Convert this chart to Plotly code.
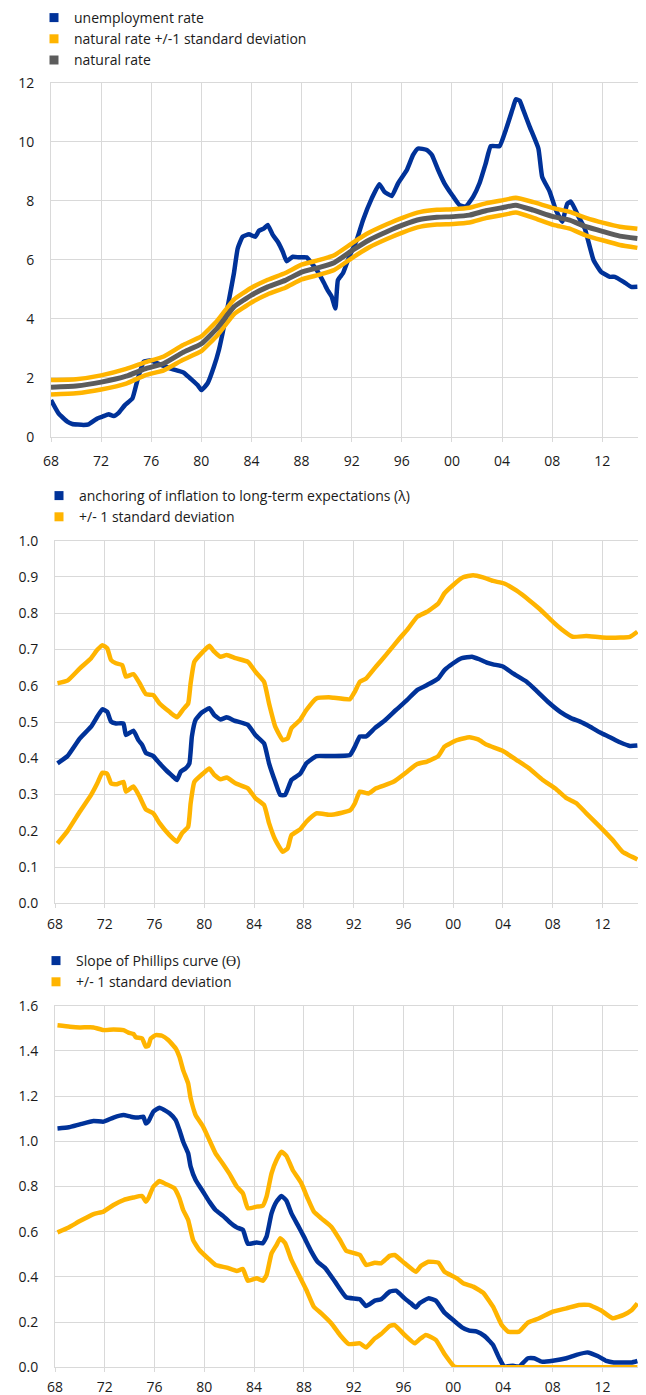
import plotly.graph_objects as go

# ---------------- Panel 1: unemployment vs natural rate ----------------
u_years = [1968.0, 1968.6, 1969.3, 1969.7, 1970.6, 1971.0, 1971.7, 1972.1, 1972.6, 1973.0,
           1973.4, 1973.9, 1974.5, 1974.9, 1975.4, 1975.9, 1976.5, 1977.0, 1977.5, 1978.1,
           1978.6, 1979.1, 1979.7, 1980.0, 1980.5, 1981.0, 1981.4, 1981.8, 1982.2, 1982.6,
           1982.9, 1983.3, 1983.8, 1984.3, 1984.6, 1985.0, 1985.3, 1985.7, 1986.1, 1986.5,
           1986.8, 1987.3, 1987.8, 1988.4, 1988.8, 1989.3, 1989.8, 1990.1, 1990.4, 1990.7,
           1990.9, 1991.3, 1991.8, 1992.4, 1992.9, 1993.6, 1994.2, 1994.6, 1995.2, 1995.7,
           1996.4, 1996.9, 1997.3, 1998.0, 1998.4, 1998.9, 1999.4, 2000.1, 2000.6, 2001.1,
           2001.7, 2002.2, 2002.7, 2003.1, 2003.8, 2004.3, 2004.9, 2005.1, 2005.4, 2005.7,
           2006.2, 2006.9, 2007.2, 2007.8, 2008.3, 2008.8, 2009.2, 2009.5, 2010.1, 2010.6,
           2011.3, 2011.9, 2012.6, 2013.0, 2013.7, 2014.3, 2014.8]
unemployment = [1.24, 0.79, 0.51, 0.43, 0.40, 0.42, 0.62, 0.68, 0.76, 0.70,
                0.81, 1.07, 1.30, 1.92, 2.54, 2.58, 2.49, 2.40, 2.32, 2.24,
                2.17, 1.98, 1.75, 1.58, 1.81, 2.37, 2.94, 3.73, 4.63, 5.54,
                6.38, 6.78, 6.86, 6.78, 6.98, 7.06, 7.18, 6.84, 6.61, 6.27,
                5.95, 6.10, 6.08, 6.08, 5.88, 5.59, 5.20, 4.95, 4.75, 4.35,
                5.31, 5.54, 6.10, 6.67, 7.34, 8.08, 8.56, 8.31, 8.16, 8.59,
                9.04, 9.55, 9.77, 9.72, 9.55, 9.04, 8.59, 8.14, 7.85, 7.80,
                8.14, 8.59, 9.27, 9.85, 9.85, 10.40, 11.19, 11.44, 11.39, 11.07,
                10.51, 9.77, 8.81, 8.31, 7.68, 7.29, 7.89, 7.97, 7.46, 7.06,
                5.99, 5.59, 5.42, 5.42, 5.25, 5.08, 5.08]

n_years = [1968.0, 1970.0, 1972.0, 1974.0, 1975.5, 1977.0, 1978.5, 1980.0, 1981.3, 1982.6,
           1984.0, 1985.3, 1986.7, 1988.0, 1989.5, 1990.6, 1992.1, 1993.4, 1994.8, 1996.1,
           1997.5, 1998.8, 2000.1, 2001.4, 2002.7, 2004.1, 2005.1, 2006.5, 2008.1, 2009.4,
           2010.7, 2012.1, 2013.4, 2014.8]
natural = [1.68, 1.72, 1.85, 2.05, 2.30, 2.48, 2.85, 3.15, 3.70, 4.40,
           4.80, 5.08, 5.30, 5.58, 5.75, 5.90, 6.33, 6.67, 6.95, 7.18,
           7.37, 7.44, 7.46, 7.51, 7.66, 7.77, 7.85, 7.68, 7.46, 7.34,
           7.12, 6.95, 6.80, 6.72]
natural_up = [1.92, 1.95, 2.08, 2.30, 2.52, 2.72, 3.10, 3.40, 3.95, 4.65,
              5.05, 5.32, 5.55, 5.83, 6.00, 6.15, 6.58, 6.92, 7.20, 7.43,
              7.62, 7.69, 7.71, 7.76, 7.91, 8.02, 8.10, 7.95, 7.75, 7.62,
              7.42, 7.25, 7.12, 7.05]
natural_lo = [1.43, 1.47, 1.60, 1.80, 2.08, 2.25, 2.60, 2.90, 3.45, 4.15,
              4.55, 4.83, 5.05, 5.33, 5.50, 5.65, 6.08, 6.42, 6.70, 6.93,
              7.12, 7.19, 7.21, 7.26, 7.41, 7.52, 7.60, 7.42, 7.18, 7.05,
              6.82, 6.65, 6.50, 6.40]

# ---------------- Panel 2: anchoring lambda ----------------
l_years = [1968.2, 1969.0, 1970.0, 1970.9, 1971.4, 1971.8, 1972.2, 1972.5, 1972.9, 1973.5,
           1973.7, 1974.3, 1974.7, 1975.0, 1975.3, 1975.9, 1976.4, 1976.9, 1977.5, 1977.8,
           1978.1, 1978.5, 1978.8, 1979.0, 1979.3, 1979.8, 1980.4, 1980.8, 1981.3, 1981.8,
           1982.4, 1983.5, 1984.1, 1984.8, 1985.2, 1985.7, 1986.1, 1986.5, 1987.0, 1987.7,
           1988.2, 1989.0, 1990.0, 1991.7, 1992.1, 1992.5, 1993.0, 1993.7, 1994.5, 1995.4,
           1996.3, 1997.1, 1997.9, 1998.8, 1999.3, 2000.0, 2000.7, 2001.5, 2002.1, 2002.7,
           2003.2, 2004.0, 2004.8, 2005.9, 2006.7, 2007.7, 2008.6, 2009.5, 2010.2, 2011.0,
           2011.8, 2012.6, 2013.4, 2014.2, 2014.8]
lam = [0.386, 0.406, 0.455, 0.487, 0.515, 0.535, 0.528, 0.501, 0.496, 0.496,
       0.464, 0.476, 0.450, 0.437, 0.415, 0.406, 0.386, 0.368, 0.349, 0.340,
       0.363, 0.372, 0.386, 0.460, 0.506, 0.526, 0.538, 0.519, 0.507, 0.513,
       0.504, 0.492, 0.464, 0.441, 0.386, 0.335, 0.299, 0.299, 0.340, 0.357,
       0.386, 0.406, 0.406, 0.409, 0.432, 0.460, 0.460, 0.483, 0.504, 0.533,
       0.561, 0.588, 0.602, 0.620, 0.643, 0.662, 0.676, 0.680, 0.673, 0.664,
       0.659, 0.653, 0.634, 0.611, 0.586, 0.553, 0.528, 0.510, 0.501, 0.487,
       0.471, 0.458, 0.444, 0.434, 0.435]

lu_years = [1968.2, 1969.0, 1970.0, 1970.9, 1971.4, 1971.8, 1972.2, 1972.5, 1972.9, 1973.4,
            1973.7, 1974.3, 1974.8, 1975.3, 1975.9, 1976.4, 1977.2, 1977.8, 1978.3, 1978.7,
            1978.9, 1979.2, 1979.9, 1980.4, 1980.8, 1981.3, 1981.8, 1982.5, 1983.5, 1984.1,
            1984.8, 1985.2, 1985.7, 1986.3, 1986.7, 1987.0, 1987.7, 1988.2, 1989.0, 1990.0,
            1990.4, 1991.7, 1992.1, 1992.5, 1993.0, 1993.8, 1994.6, 1995.7, 1996.3, 1997.1,
            1997.9, 1998.8, 1999.3, 2000.0, 2000.8, 2001.6, 2002.4, 2003.2, 2004.1, 2005.1,
            2006.1, 2006.9, 2008.0, 2008.7, 2009.6, 2010.7, 2012.0, 2013.4, 2014.2, 2014.8]
lam_up = [0.607, 0.614, 0.648, 0.676, 0.699, 0.712, 0.703, 0.671, 0.662, 0.657,
          0.625, 0.632, 0.607, 0.577, 0.574, 0.551, 0.528, 0.513, 0.535, 0.551,
          0.607, 0.666, 0.694, 0.710, 0.694, 0.680, 0.685, 0.676, 0.666, 0.639,
          0.611, 0.551, 0.487, 0.450, 0.455, 0.483, 0.506, 0.533, 0.565, 0.568,
          0.567, 0.563, 0.584, 0.611, 0.620, 0.653, 0.685, 0.731, 0.754, 0.790,
          0.804, 0.827, 0.855, 0.878, 0.899, 0.905, 0.899, 0.889, 0.882, 0.862,
          0.836, 0.813, 0.777, 0.756, 0.735, 0.737, 0.733, 0.733, 0.735, 0.749]

ll_years = [1968.2, 1969.0, 1970.0, 1970.9, 1971.4, 1971.8, 1972.2, 1972.5, 1972.9, 1973.5,
            1973.7, 1974.3, 1974.8, 1975.3, 1975.9, 1976.4, 1977.2, 1977.8, 1978.2, 1978.7,
            1978.9, 1979.2, 1979.9, 1980.4, 1980.8, 1981.3, 1981.8, 1982.5, 1983.5, 1984.1,
            1984.8, 1985.2, 1985.7, 1986.3, 1986.7, 1987.0, 1987.7, 1988.2, 1989.0, 1990.0,
            1990.4, 1991.7, 1992.1, 1992.5, 1993.2, 1993.8, 1995.2, 1996.3, 1997.1, 1997.9,
            1998.8, 1999.3, 2000.3, 2001.3, 2002.0, 2002.7, 2004.0, 2005.1, 2006.1, 2007.2,
            2008.3, 2009.1, 2009.9, 2010.7, 2011.8, 2012.8, 2013.6, 2014.2, 2014.8]
lam_lo = [0.165, 0.199, 0.253, 0.299, 0.331, 0.360, 0.357, 0.331, 0.328, 0.335,
          0.308, 0.322, 0.294, 0.259, 0.248, 0.221, 0.188, 0.170, 0.193, 0.211,
          0.276, 0.335, 0.358, 0.372, 0.354, 0.342, 0.347, 0.331, 0.317, 0.290,
          0.271, 0.221, 0.175, 0.142, 0.152, 0.188, 0.204, 0.225, 0.248, 0.244,
          0.245, 0.256, 0.276, 0.308, 0.303, 0.317, 0.335, 0.363, 0.384, 0.391,
          0.406, 0.432, 0.450, 0.458, 0.452, 0.437, 0.420, 0.395, 0.372, 0.340,
          0.314, 0.290, 0.276, 0.248, 0.211, 0.175, 0.142, 0.131, 0.121]

# ---------------- Panel 3: slope of Phillips curve theta ----------------
t_years = [1968.2, 1969.1, 1970.0, 1971.1, 1971.9, 1972.7, 1973.5, 1974.1, 1974.7, 1975.1,
           1975.3, 1975.5, 1975.9, 1976.4, 1976.8, 1977.2, 1977.7, 1978.0, 1978.3, 1978.7,
           1978.9, 1979.3, 1979.9, 1980.4, 1980.9, 1981.5, 1982.0, 1982.6, 1983.1, 1983.5,
           1984.2, 1984.7, 1985.0, 1985.4, 1985.8, 1986.2, 1986.6, 1987.0, 1987.5, 1988.0,
           1988.6, 1989.1, 1989.7, 1990.5, 1991.4, 1992.5, 1993.0, 1993.7, 1994.2, 1994.9,
           1995.4, 1996.1, 1996.6, 1997.0, 1997.3, 1998.0, 1998.6, 1999.3, 2000.0, 2000.7,
           2001.3, 2001.9, 2002.5, 2003.2, 2003.7, 2004.1, 2004.8, 2005.3, 2006.0, 2006.5,
           2007.1, 2008.0, 2009.1, 2009.9, 2010.8, 2011.6, 2012.3, 2012.9, 2013.6, 2014.3,
           2014.8]
theta = [1.057, 1.062, 1.075, 1.090, 1.087, 1.105, 1.116, 1.109, 1.105, 1.109,
         1.079, 1.087, 1.131, 1.149, 1.138, 1.124, 1.094, 1.050, 0.998, 0.947,
         0.888, 0.829, 0.777, 0.733, 0.696, 0.670, 0.644, 0.619, 0.608, 0.546,
         0.552, 0.549, 0.578, 0.681, 0.733, 0.758, 0.737, 0.681, 0.630, 0.578,
         0.512, 0.467, 0.440, 0.379, 0.310, 0.301, 0.271, 0.295, 0.301, 0.335,
         0.339, 0.305, 0.283, 0.265, 0.283, 0.305, 0.295, 0.242, 0.209, 0.177,
         0.162, 0.158, 0.139, 0.099, 0.040, 0.003, 0.007, 0.003, 0.040, 0.040,
         0.025, 0.029, 0.040, 0.055, 0.066, 0.050, 0.028, 0.021, 0.021, 0.021,
         0.028]

tu_years = [1968.2, 1969.2, 1970.0, 1971.1, 1971.9, 1972.7, 1973.5, 1973.9, 1974.3, 1974.5,
            1975.0, 1975.3, 1975.5, 1975.7, 1976.1, 1976.6, 1977.1, 1977.7, 1978.0, 1978.3,
            1978.7, 1978.9, 1979.3, 1979.9, 1980.4, 1980.9, 1981.5, 1982.0, 1982.6, 1983.1,
            1983.5, 1984.2, 1984.7, 1985.0, 1985.4, 1985.8, 1986.2, 1986.6, 1987.1, 1987.8,
            1988.3, 1988.8, 1989.4, 1990.2, 1990.9, 1991.4, 1992.5, 1993.0, 1993.7, 1994.2,
            1994.9, 1995.3, 1996.1, 1997.0, 1997.4, 1998.0, 1998.8, 1999.3, 2000.3, 2000.8,
            2001.6, 2002.4, 2003.2, 2003.9, 2004.4, 2005.3, 2006.0, 2006.9, 2008.0, 2009.1,
            2010.1, 2010.9, 2011.9, 2012.8, 2013.7, 2014.3, 2014.8]
theta_up = [1.513, 1.507, 1.504, 1.504, 1.492, 1.495, 1.492, 1.481, 1.475, 1.460,
            1.455, 1.419, 1.422, 1.455, 1.470, 1.467, 1.448, 1.411, 1.374, 1.315,
            1.256, 1.190, 1.116, 1.065, 1.006, 0.947, 0.900, 0.858, 0.800, 0.770,
            0.703, 0.711, 0.715, 0.755, 0.858, 0.917, 0.954, 0.935, 0.873, 0.814,
            0.748, 0.689, 0.659, 0.622, 0.563, 0.516, 0.497, 0.453, 0.463, 0.460,
            0.493, 0.497, 0.460, 0.423, 0.448, 0.467, 0.463, 0.423, 0.394, 0.372,
            0.357, 0.330, 0.268, 0.187, 0.158, 0.158, 0.198, 0.217, 0.246, 0.261,
            0.276, 0.276, 0.251, 0.217, 0.232, 0.251, 0.283]

tl_years = [1968.2, 1969.1, 1970.0, 1971.1, 1971.9, 1972.7, 1973.5, 1974.3, 1975.0, 1975.3,
            1975.5, 1975.9, 1976.4, 1976.9, 1977.6, 1978.0, 1978.3, 1978.7, 1979.1, 1979.6,
            1980.3, 1980.9, 1981.8, 1982.6, 1983.1, 1983.5, 1984.2, 1984.7, 1985.0, 1985.4,
            1985.8, 1986.1, 1986.5, 1987.0, 1987.6, 1988.2, 1988.8, 1989.4, 1990.2, 1990.9,
            1991.6, 1992.5, 1993.0, 1993.7, 1994.2, 1994.9, 1995.3, 1996.1, 1996.9, 1997.3,
            1997.8, 1998.6, 1999.3, 2000.1, 2000.8, 2004.0, 2008.0, 2012.0, 2014.8]
theta_lo = [0.597, 0.619, 0.647, 0.678, 0.689, 0.718, 0.740, 0.751, 0.758, 0.733,
            0.748, 0.799, 0.824, 0.811, 0.792, 0.748, 0.696, 0.652, 0.563, 0.519,
            0.482, 0.453, 0.441, 0.426, 0.435, 0.383, 0.394, 0.383, 0.408, 0.504,
            0.541, 0.571, 0.549, 0.475, 0.408, 0.342, 0.268, 0.239, 0.195, 0.143,
            0.103, 0.106, 0.088, 0.128, 0.147, 0.183, 0.187, 0.143, 0.106, 0.124,
            0.143, 0.121, 0.059, 0.003, 0.0, 0.0, 0.0, 0.0, 0.0]

tick_years = [1968, 1972, 1976, 1980, 1984, 1988, 1992, 1996, 2000, 2004, 2008, 2012]
tick_text = ["68", "72", "76", "80", "84", "88", "92", "96", "00", "04", "08", "12"]

legend1_names = ["unemployment rate", "natural rate +/-1 standard deviation", "natural rate"]
legend2_names = ["anchoring of inflation to long-term expectations (λ)", "+/- 1 standard deviation"]
legend3_names = ["Slope of Phillips curve (ϴ)", "+/- 1 standard deviation"]

BLUE = "#003299"
YELLOW = "#FFB400"
GREY = "#5C5C5C"
GRID = "#d9d9d9"
TXT = "#1a1a1a"
FONT = "Open Sans"
# the page body adds an 8px margin; the figure is sized to fit the 646x1395 window
OFF = 8
W, H = 646 - OFF, 1395 - OFF

fig = go.Figure()


def line(x, y, color, width, xa, ya):
    fig.add_trace(go.Scatter(x=x, y=y, mode="lines", xaxis=xa, yaxis=ya, showlegend=False,
                             hoverinfo="skip",
                             line=dict(color=color, width=width, shape="spline", smoothing=0.4)))


def legend_entry(name, color, leg, xa, ya):
    fig.add_trace(go.Scatter(x=[None], y=[None], mode="markers", name=name, legend=leg,
                             xaxis=xa, yaxis=ya,
                             marker=dict(symbol="square", size=9, color=color)))


# panel 1
line(u_years, unemployment, BLUE, 4.5, "x", "y")
line(n_years, natural_up, YELLOW, 4.5, "x", "y")
line(n_years, natural_lo, YELLOW, 4.5, "x", "y")
line(n_years, natural, GREY, 5, "x", "y")
legend_entry(legend1_names[0], BLUE, "legend", "x", "y")
legend_entry(legend1_names[1], YELLOW, "legend", "x", "y")
legend_entry(legend1_names[2], GREY, "legend", "x", "y")

# panel 2
line(l_years, lam, BLUE, 4.5, "x2", "y2")
line(lu_years, lam_up, YELLOW, 4.5, "x2", "y2")
line(ll_years, lam_lo, YELLOW, 4.5, "x2", "y2")
legend_entry(legend2_names[0], BLUE, "legend2", "x2", "y2")
legend_entry(legend2_names[1], YELLOW, "legend2", "x2", "y2")

# panel 3
line(t_years, theta, BLUE, 4.5, "x3", "y3")
line(tu_years, theta_up, YELLOW, 4.5, "x3", "y3")
line(tl_years, theta_lo, YELLOW, 4.5, "x3", "y3")
legend_entry(legend3_names[0], BLUE, "legend3", "x3", "y3")
legend_entry(legend3_names[1], YELLOW, "legend3", "x3", "y3")


def px_y(p):
    # p: screen pixel (in the 646x1395 window)
    return 1 - (p - OFF) / H


def px_x(p):
    return (p - OFF) / W


def xaxis_style(standoff):
    return dict(range=[1968, 2014.85], tickvals=tick_years, ticktext=tick_text,
                showgrid=True, gridcolor=GRID, gridwidth=1, zeroline=False,
                showline=True, linecolor=GRID, linewidth=1, mirror=True,
                ticks="outside", ticklen=4, tickcolor=GRID, tickwidth=1,
                ticklabelstandoff=standoff, automargin=False,
                tickfont=dict(family=FONT, size=14, color=TXT), fixedrange=True)


ycommon = dict(showgrid=True, gridcolor=GRID, gridwidth=1, zeroline=False,
               showline=True, linecolor=GRID, linewidth=1, ticks="",
               ticklabelstandoff=13, automargin=False,
               tickfont=dict(family=FONT, size=14, color=TXT), fixedrange=True)

legfont = dict(family=FONT, size=14, color=TXT)

fig.update_layout(
    width=W, height=H,
    margin=dict(l=0, r=0, t=0, b=0, autoexpand=False),
    paper_bgcolor="white", plot_bgcolor="white",
    font=dict(family=FONT, size=14, color=TXT),
    xaxis=dict(domain=[px_x(51), px_x(638)], anchor="y", **xaxis_style(7)),
    yaxis=dict(domain=[px_y(436.7), px_y(82.7)], anchor="x", range=[0, 12],
               tickvals=[0, 2, 4, 6, 8, 10, 12], **ycommon),
    xaxis2=dict(domain=[px_x(55), px_x(638)], anchor="y2", **xaxis_style(4)),
    yaxis2=dict(domain=[px_y(903.3), px_y(540.7)], anchor="x2", range=[0, 1.0],
                tickvals=[0, 0.1, 0.2, 0.3, 0.4, 0.5, 0.6, 0.7, 0.8, 0.9, 1.0],
                tickformat=".1f", **ycommon),
    xaxis3=dict(domain=[px_x(55), px_x(638)], anchor="y3", **xaxis_style(3)),
    yaxis3=dict(domain=[px_y(1367.3), px_y(1005.7)], anchor="x3", range=[0, 1.6],
                tickvals=[0, 0.2, 0.4, 0.6, 0.8, 1.0, 1.2, 1.4, 1.6],
                tickformat=".1f", **ycommon),
    legend=dict(x=px_x(34), y=px_y(2), xanchor="left", yanchor="top",
                bgcolor="rgba(0,0,0,0)", font=legfont, traceorder="normal"),
    legend2=dict(x=px_x(39), y=px_y(480), xanchor="left", yanchor="top",
                 bgcolor="rgba(0,0,0,0)", font=legfont, traceorder="normal"),
    legend3=dict(x=px_x(36), y=px_y(945), xanchor="left", yanchor="top",
                 bgcolor="rgba(0,0,0,0)", font=legfont, traceorder="normal"),
    showlegend=True,
)

fig.write_html("out.html")
